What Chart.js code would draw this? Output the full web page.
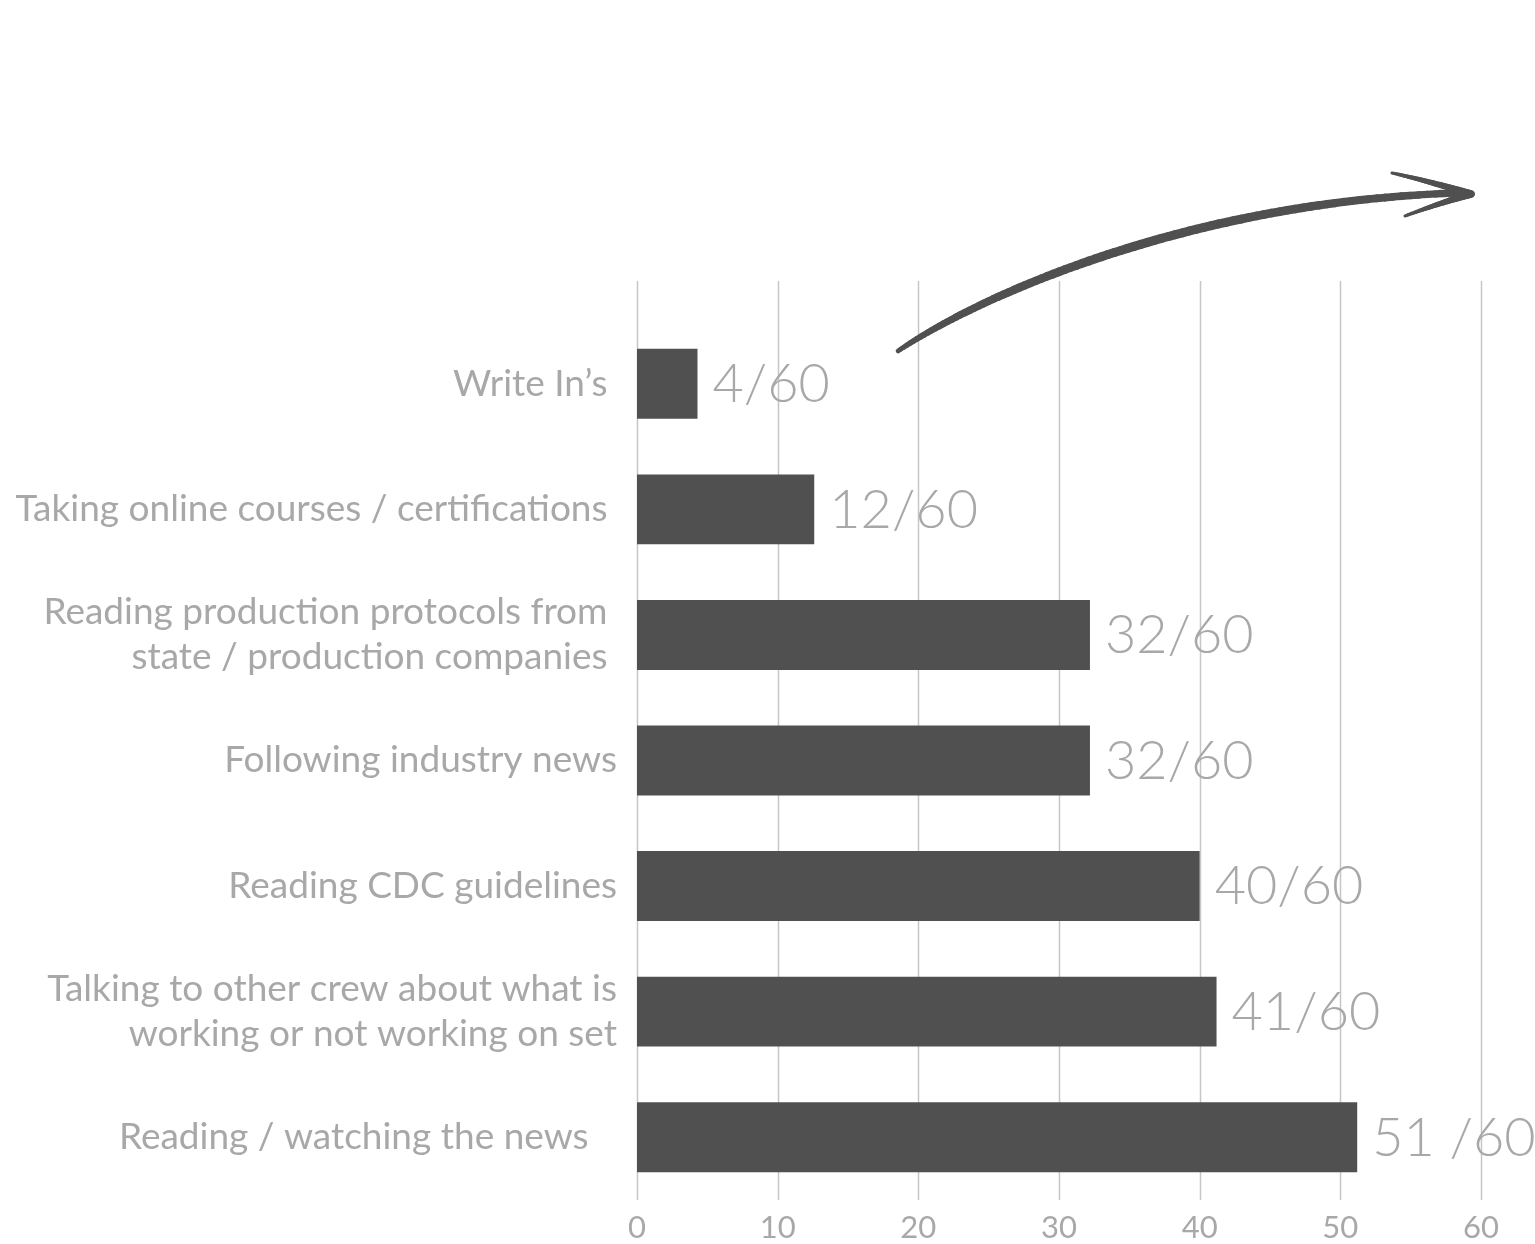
<!DOCTYPE html>
<html>
<head>
<meta charset="utf-8">
<script src="https://cdn.jsdelivr.net/npm/chart.js@4/dist/chart.umd.min.js"></script>
<style>
  html, body { margin: 0; padding: 0; background: #ffffff; }
  #wrap { position: relative; width: 1535px; height: 1244px; }
</style>
</head>
<body>
<div id="wrap"><canvas id="c" width="1535" height="1244"></canvas></div>
<script>
// ---- data ----
const categories = [
  "Write In\u2019s ",
  "Taking online courses / certifications ",
  ["Reading production protocols from ", "state / production companies "],
  "Following industry news",
  "Reading CDC guidelines",
  ["Talking to other crew about what is", "working or not working on set"],
  "Reading / watching the news   "
];
const responses = [4.3, 12.6, 32.2, 32.2, 40, 41.2, 51.2];
const valueLabels = ["4/60", "12/60", "32/60", "32/60", "40/60", "41/60", "51 /60"];
const xTicks = [0, 10, 20, 30, 40, 50, 60];

const GRAY_TEXT = "#a8a8a8";
const BAR = "#505050";
const GRID = "#c6c6c6";

// value labels next to bars
const valueLabelPlugin = {
  id: "valueLabels",
  afterDatasetsDraw(chart) {
    const ctx = chart.ctx;
    const meta = chart.getDatasetMeta(0);
    ctx.save();
    ctx.font = "300 54px Lato";
    ctx.fillStyle = GRAY_TEXT;
    ctx.textAlign = "left";
    ctx.textBaseline = "middle";
    meta.data.forEach((bar, i) => {
      ctx.fillText(valueLabels[i], bar.x + 15, bar.y + 1);
    });
    ctx.restore();
  }
};

// vertical gridlines (extend above the category band area)
const gridPlugin = {
  id: "gridLines",
  beforeDatasetsDraw(chart) {
    const ctx = chart.ctx;
    const xs = chart.scales.x;
    const { top, bottom } = chart.chartArea;
    ctx.save();
    ctx.strokeStyle = GRID;
    ctx.lineWidth = 1.5;
    xTicks.forEach(v => {
      const px = Math.round(xs.getPixelForValue(v)) + 0.5;
      ctx.beginPath();
      ctx.moveTo(px, top - 40);
      ctx.lineTo(px, bottom);
      ctx.stroke();
    });
    ctx.restore();
  }
};

// decorative hand-drawn arrow
const arrowPlugin = {
  id: "arrow",
  afterDraw(chart) {
    const ctx = chart.ctx;
    const P0 = [898, 351], P1 = [985, 292], P2 = [1200, 200], P3 = [1462, 193];
    const pt = t => {
      const u = 1 - t;
      return [
        u*u*u*P0[0] + 3*u*u*t*P1[0] + 3*u*t*t*P2[0] + t*t*t*P3[0],
        u*u*u*P0[1] + 3*u*u*t*P1[1] + 3*u*t*t*P2[1] + t*t*t*P3[1]
      ];
    };
    ctx.save();
    ctx.strokeStyle = BAR;
    ctx.lineCap = "round";
    const N = 90;
    for (let i = 0; i < N; i++) {
      const t0 = i / N, t1 = (i + 1) / N;
      const a = pt(t0), b = pt(t1);
      const tm = (t0 + t1) / 2;
      ctx.lineWidth = 2 + 7 * Math.pow(Math.sin(Math.PI * Math.min(tm * 0.8 + 0.04, 1)), 0.5);
      ctx.beginPath();
      ctx.moveTo(a[0], a[1]);
      ctx.lineTo(b[0], b[1]);
      ctx.stroke();
    }
    const tip = [1471, 194];
    const barb = (end, ctrl) => {
      const M = 30;
      const q = t => {
        const u = 1 - t;
        return [u*u*tip[0] + 2*u*t*ctrl[0] + t*t*end[0], u*u*tip[1] + 2*u*t*ctrl[1] + t*t*end[1]];
      };
      for (let i = 0; i < M; i++) {
        const t0 = i / M, t1 = (i + 1) / M;
        const a = q(t0), b = q(t1);
        ctx.lineWidth = 7.5 - 4.5 * ((t0 + t1) / 2);
        ctx.beginPath();
        ctx.moveTo(a[0], a[1]);
        ctx.lineTo(b[0], b[1]);
        ctx.stroke();
      }
    };
    ctx.lineWidth = 6.5;
    ctx.beginPath();
    ctx.moveTo(1440, 193);
    ctx.lineTo(tip[0], tip[1]);
    ctx.stroke();
    barb([1392, 173], [1425, 180]);
    barb([1405, 216], [1440, 203]);
    ctx.restore();
  }
};

new Chart(document.getElementById("c"), {
  type: "bar",
  data: {
    labels: categories,
    datasets: [{
      data: responses,
      backgroundColor: BAR,
      borderWidth: 0,
      categoryPercentage: 1,
      barPercentage: 0.557
    }]
  },
  options: {
    indexAxis: "y",
    responsive: false,
    animation: false,
    devicePixelRatio: 1,
    layout: { padding: { top: 321, right: 54, bottom: 0, left: 0 } },
    plugins: {
      legend: { display: false },
      tooltip: { enabled: false },
      title: { display: false }
    },
    scales: {
      x: {
        type: "linear",
        min: 0,
        max: 60,
        afterBuildTicks(scale) { scale.ticks = xTicks.map(v => ({ value: v })); },
        afterFit(scale) { scale.height = 44; },
        grid: { display: false, drawTicks: false },
        border: { display: false },
        ticks: {
          color: GRAY_TEXT,
          font: { family: "Lato", size: 31 },
          padding: 9,
          maxRotation: 0
        }
      },
      y: {
        type: "category",
        afterFit(scale) { scale.width = 637; },
        grid: { display: false, drawTicks: false },
        border: { display: false },
        ticks: {
          color: GRAY_TEXT,
          font: { family: "Lato", size: 37, lineHeight: 1.22 },
          padding: 20,
          crossAlign: "near"
        }
      }
    }
  },
  plugins: [gridPlugin, valueLabelPlugin, arrowPlugin]
});
</script>
</body>
</html>
